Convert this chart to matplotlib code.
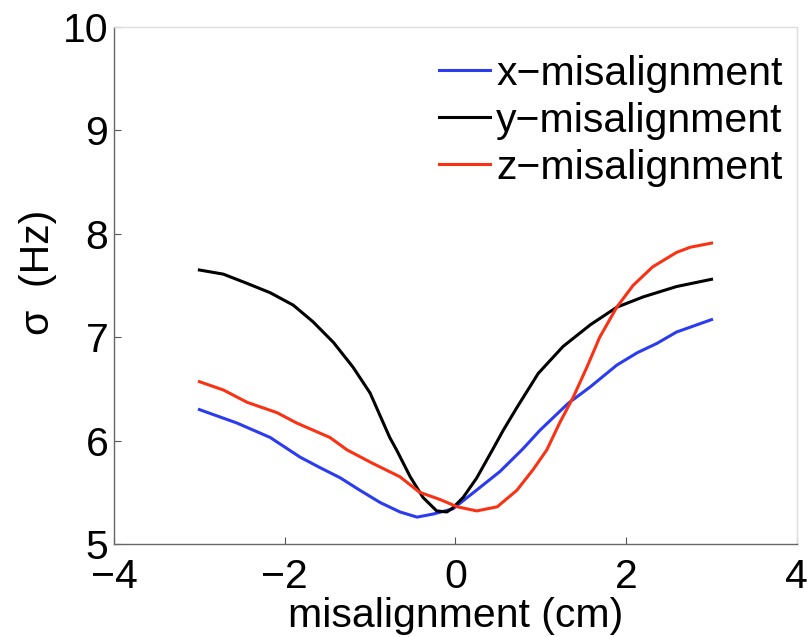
import matplotlib
matplotlib.use('Agg')
import matplotlib.pyplot as plt

plt.rcParams['font.family'] = ['Liberation Sans', 'DejaVu Sans']

# x-misalignment (blue)
x_blue = [-3.0, -2.56, -2.17, -1.82, -1.59, -1.35, -1.12, -0.88, -0.65, -0.45, -0.26, -0.03,
          0.2, 0.52, 0.79, 0.99, 1.32, 1.58, 1.89, 2.13, 2.36, 2.59, 3.0]
y_blue = [6.30, 6.17, 6.03, 5.84, 5.74, 5.64, 5.52, 5.40, 5.31, 5.26, 5.29, 5.34,
          5.49, 5.70, 5.92, 6.10, 6.36, 6.52, 6.73, 6.85, 6.94, 7.05, 7.17]

# y-misalignment (black)
x_black = [-3.0, -2.72, -2.44, -2.17, -1.90, -1.67, -1.43, -1.20, -1.00, -0.77, -0.69, -0.53,
           -0.38, -0.22, -0.10, -0.03, 0.09, 0.25, 0.44, 0.56, 0.72, 0.97, 1.26, 1.58,
           1.89, 2.20, 2.59, 3.0]
y_black = [7.65, 7.61, 7.52, 7.43, 7.31, 7.15, 6.95, 6.71, 6.46, 6.03, 5.91, 5.65,
           5.45, 5.32, 5.31, 5.35, 5.45, 5.64, 5.92, 6.10, 6.32, 6.65, 6.91, 7.12,
           7.29, 7.39, 7.49, 7.56]

# z-misalignment (red)
x_red = [-3.0, -2.72, -2.44, -2.09, -1.86, -1.47, -1.27, -0.97, -0.65, -0.42, -0.18, 0.02,
         0.25, 0.49, 0.72, 0.91, 1.07, 1.22, 1.38, 1.54, 1.69, 1.89, 2.08, 2.31, 2.59,
         2.75, 3.0]
y_red = [6.57, 6.49, 6.37, 6.27, 6.17, 6.03, 5.91, 5.78, 5.65, 5.50, 5.43, 5.36,
         5.32, 5.36, 5.52, 5.72, 5.91, 6.17, 6.42, 6.71, 7.0, 7.29, 7.50, 7.68, 7.82,
         7.87, 7.91]

labels = ['x\u2212misalignment', 'y\u2212misalignment', 'z\u2212misalignment']
x_ticks = [-4, -2, 0, 2, 4]
y_ticks = [5, 6, 7, 8, 9, 10]

fs = 29.5

fig = plt.figure(figsize=(8.11, 6.37), dpi=100)
ax = fig.add_axes([0.1406, 0.146, 0.842, 0.8116])

ax.plot(x_blue, y_blue, color='#2b3bf0', lw=2.2, label=labels[0])
ax.plot(x_black, y_black, color='black', lw=2.2, label=labels[1])
ax.plot(x_red, y_red, color='#fa3214', lw=2.2, label=labels[2])

ax.set_xlim(-4, 4)
ax.set_ylim(5, 10)
ax.set_xticks(x_ticks)
ax.set_yticks(y_ticks)
ax.tick_params(direction='in', length=5, width=0.8, color='#555555', labelsize=fs)
ax.tick_params(axis='y', pad=4)
ax.tick_params(axis='x', pad=10)

for side in ['left', 'bottom']:
    ax.spines[side].set_color('#666666')
    ax.spines[side].set_linewidth(1.0)
for side in ['top', 'right']:
    ax.spines[side].set_color('#dddddd')
    ax.spines[side].set_linewidth(1.0)

ax.set_xlabel('misalignment (cm)', fontsize=fs)
ax.set_ylabel('\u03c3  (Hz)', fontsize=fs)
ax.xaxis.set_label_coords(0.5, -0.103)
ax.yaxis.set_label_coords(-0.083, 0.526)

ax.legend(loc='upper right', bbox_to_anchor=(1.015, 0.994), frameon=False, fontsize=fs,
          handlelength=1.25, handletextpad=0.15, labelspacing=0.22,
          borderaxespad=0.2)

fig.savefig('out.png', dpi=100)
